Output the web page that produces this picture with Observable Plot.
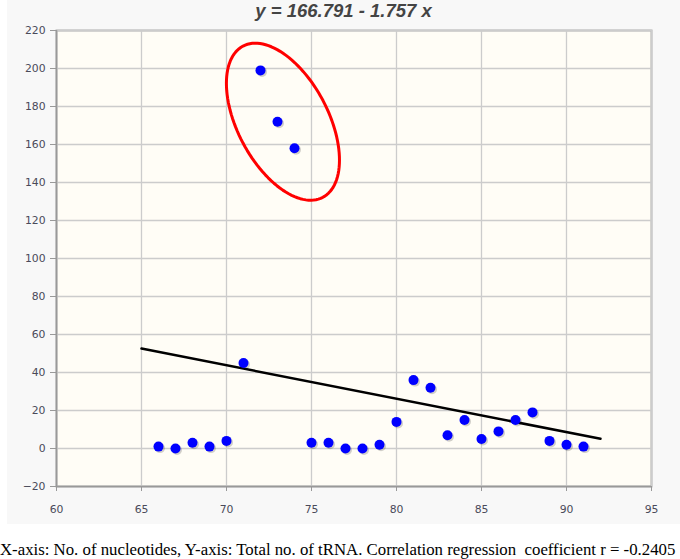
<!DOCTYPE html>
<html>
<head>
<meta charset="utf-8">
<script src="https://cdn.jsdelivr.net/npm/d3@7"></script>
<script src="https://cdn.jsdelivr.net/npm/@observablehq/plot@0.6"></script>
<style>
  body { margin: 0; background: #ffffff; overflow: hidden; }
  #wrap { position: relative; margin-left: 7px; width: 673px; height: 524px; background: #f8f8f8; }
  #title { position: absolute; top: 0; left: 0; width: 673px; text-align: center;
           font-family: "Liberation Sans", Arial, sans-serif; font-style: italic; font-weight: bold;
           font-size: 18.5px; color: #444; line-height: 21px; }
  #chart { position: absolute; top: 0; left: 0; }
  #caption { font-family: "Liberation Serif", "Times New Roman", "DejaVu Serif", serif; font-size: 16px;
             color: #000; margin-top: 16px; white-space: nowrap; line-height: 20px; display: inline-block; }
</style>
</head>
<body>
<div id="wrap">
  <div id="chart"></div>
  <div id="title">y = 166.791 - 1.757 x</div>
</div>
<div id="caption">X-axis: No. of nucleotides, Y-axis: Total no. of tRNA. Correlation regression&nbsp; coefficient r = -0.2405</div>
<script>
const nucleotides = [66,67,68,69,70,71,72,73,74,75,76,77,78,79,80,81,82,83,84,85,86,87,88,89,90,91];
const trnaCount   = [1,0,3,1,4,45,199,172,158,3,3,0,0,2,14,36,32,7,15,5,9,15,19,4,2,1];
const xTicks = [60,65,70,75,80,85,90,95];
const yTicks = [-20,0,20,40,60,80,100,120,140,160,180,200,220];
const regX = [65, 92];
const regY = [52.6, 5.1];
// highlight ellipse (data-space centre, pixel semi-axes, tilt in degrees)
const ellCenter = [73.32, 172.0];
const ellAxes = [85.5, 45.3];
const ellTilt = 27.8;

const W = 673, H = 524, mL = 49, mR = 29, mT = 30, mB = 38;
const xDom = [60, 95], yDom = [-20, 220];
const pxX = (W - mL - mR) / (xDom[1] - xDom[0]);
const pxY = (H - mT - mB) / (yDom[1] - yDom[0]);

const pts = nucleotides.map((x, i) => ({x, y: trnaCount[i]}));
const reg = regX.map((x, i) => ({x, y: regY[i]}));

const th = ellTilt * Math.PI / 180;
const ell = d3.range(0, 120).map(k => {
  const t = k / 120 * 2 * Math.PI;
  const dx = ellAxes[0] * Math.cos(t) * Math.sin(th) + ellAxes[1] * Math.sin(t) * Math.cos(th);
  const dy = ellAxes[0] * Math.cos(t) * Math.cos(th) - ellAxes[1] * Math.sin(t) * Math.sin(th);
  return {x: ellCenter[0] + dx / pxX, y: ellCenter[1] - dy / pxY};
});

const plot = Plot.plot({
  width: W, height: H,
  marginLeft: mL, marginRight: mR, marginTop: mT, marginBottom: mB,
  style: {background: "transparent", fontFamily: "'DejaVu Sans', sans-serif", fontSize: "10.8px", color: "#4a4a5a"},
  x: {domain: xDom, ticks: xTicks, label: null},
  y: {domain: yDom, ticks: yTicks, label: null},
  marks: [
    Plot.frame({fill: "#fffdf6", stroke: "#b0b0b0", strokeWidth: 2}),
    Plot.gridX(xTicks, {stroke: "#cccccc", strokeOpacity: 1, strokeWidth: 1.3}),
    Plot.gridY(yTicks, {stroke: "#cccccc", strokeOpacity: 1, strokeWidth: 1.3}),
    Plot.axisX({ticks: xTicks, tickSize: 5, tickPadding: 14, stroke: "#999"}),
    Plot.axisY({ticks: yTicks, tickSize: 6, tickPadding: 5, stroke: "#999"}),
    Plot.ruleX([60], {stroke: "#999", strokeWidth: 1.5}),
    Plot.ruleY([-20], {stroke: "#999", strokeWidth: 1.5}),
    Plot.line(reg, {x: "x", y: "y", stroke: "#000", strokeWidth: 2.5}),
    Plot.dot(pts, {x: "x", y: "y", r: 5, fill: "#000", fillOpacity: 0.18, dx: 1.5, dy: 1.5}),
    Plot.dot(pts, {x: "x", y: "y", r: 5, fill: "#0000ff"}),
    Plot.line(ell, {x: "x", y: "y", stroke: "#ff0000", strokeWidth: 3, curve: "linear-closed"})
  ]
});
document.getElementById("chart").appendChild(plot);

// fit the caption to the width it occupies in the reference
const cap = document.getElementById("caption");
const w = cap.getBoundingClientRect().width;
if (w > 0) cap.style.fontSize = (16 * 676 / w).toFixed(2) + "px";
</script>
</body>
</html>
